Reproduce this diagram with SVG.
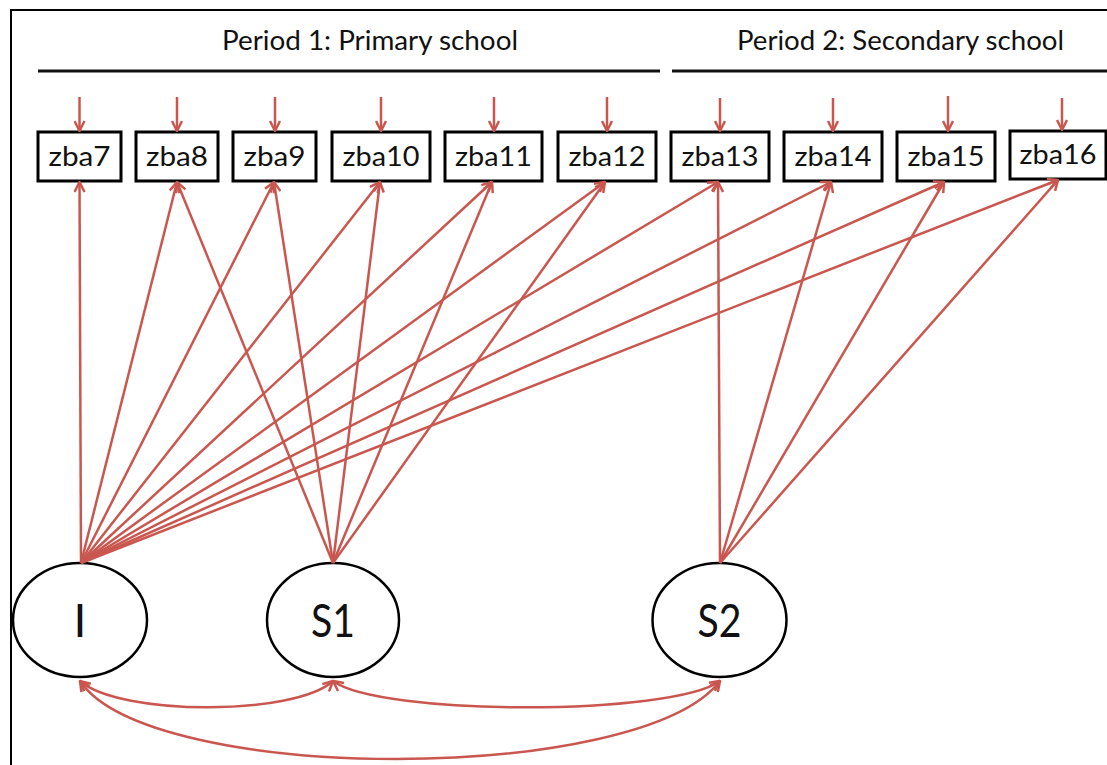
<svg xmlns="http://www.w3.org/2000/svg" width="1107" height="765" viewBox="0 0 1107 765">
<defs>
<style>
.box{fill:#fff;stroke:#000;stroke-width:3}
.lbl{font-family:Lato,"Open Sans","Liberation Sans",sans-serif;font-size:26px;fill:#111;text-anchor:middle}
.hdr{font-family:Lato,"Open Sans","Liberation Sans",sans-serif;font-size:26px;fill:#111}
.lat{fill:#fff;stroke:#000;stroke-width:2.5}
.big{font-family:Lato,"Open Sans","Liberation Sans",sans-serif;font-size:46px;fill:#111;text-anchor:middle}
.c{fill:none;stroke:#C9574F;stroke-width:2.5;marker-end:url(#ah)}
.cc{fill:none;stroke:#C9574F;stroke-width:2.5;marker-end:url(#ah);marker-start:url(#ah)}
</style>
<marker id="ah" viewBox="0 0 12 12" refX="11" refY="6" markerWidth="12" markerHeight="12" markerUnits="userSpaceOnUse" orient="auto-start-reverse">
<path d="M1,1 L11,6 L1,11" fill="none" stroke="#C9574F" stroke-width="2.5"/>
</marker>
</defs>
<rect width="1107" height="765" fill="#fff"/>
<path d="M11,765 V10 H1107" fill="none" stroke="#000" stroke-width="2"/>
<g id="headers">
<text class="hdr" x="222" y="50" textLength="296" lengthAdjust="spacingAndGlyphs">Period 1: Primary school</text>
<text class="hdr" x="737" y="50" textLength="327" lengthAdjust="spacingAndGlyphs">Period 2: Secondary school</text>
<line x1="38" y1="71" x2="660" y2="71" stroke="#111" stroke-width="3"/>
<line x1="672" y1="71" x2="1107" y2="71" stroke="#111" stroke-width="3"/>
</g>
<g id="zba7"><rect class="box" x="38" y="132" width="83" height="49"/><text class="lbl" x="79.5" y="166" textLength="62" lengthAdjust="spacingAndGlyphs">zba7</text></g>
<g id="zba8"><rect class="box" x="136" y="132" width="82" height="49"/><text class="lbl" x="177" y="166" textLength="62" lengthAdjust="spacingAndGlyphs">zba8</text></g>
<g id="zba9"><rect class="box" x="233" y="132" width="83" height="49"/><text class="lbl" x="274.5" y="166" textLength="62" lengthAdjust="spacingAndGlyphs">zba9</text></g>
<g id="zba10"><rect class="box" x="332" y="132" width="98" height="49"/><text class="lbl" x="381" y="166" textLength="77" lengthAdjust="spacingAndGlyphs">zba10</text></g>
<g id="zba11"><rect class="box" x="445" y="132" width="97" height="49"/><text class="lbl" x="493.5" y="166" textLength="77" lengthAdjust="spacingAndGlyphs">zba11</text></g>
<g id="zba12"><rect class="box" x="558" y="132" width="98" height="49"/><text class="lbl" x="607" y="166" textLength="77" lengthAdjust="spacingAndGlyphs">zba12</text></g>
<g id="zba13"><rect class="box" x="671" y="132" width="98" height="49"/><text class="lbl" x="720" y="166" textLength="77" lengthAdjust="spacingAndGlyphs">zba13</text></g>
<g id="zba14"><rect class="box" x="784" y="132" width="98" height="49"/><text class="lbl" x="833" y="166" textLength="77" lengthAdjust="spacingAndGlyphs">zba14</text></g>
<g id="zba15"><rect class="box" x="897" y="132" width="98" height="49"/><text class="lbl" x="946" y="166" textLength="77" lengthAdjust="spacingAndGlyphs">zba15</text></g>
<g id="zba16"><rect class="box" x="1010" y="131" width="96" height="48"/><text class="lbl" x="1058" y="164" textLength="77" lengthAdjust="spacingAndGlyphs">zba16</text></g>
<g id="I"><ellipse class="lat" cx="80" cy="620" rx="67" ry="57"/><text class="big" x="80" y="637">I</text></g>
<g id="S1"><ellipse class="lat" cx="333" cy="620" rx="66" ry="57"/><text class="big" x="333" y="637" textLength="44" lengthAdjust="spacingAndGlyphs">S1</text></g>
<g id="S2"><ellipse class="lat" cx="719.5" cy="620" rx="67" ry="57"/><text class="big" x="719.5" y="637" textLength="44" lengthAdjust="spacingAndGlyphs">S2</text></g>
<g id="connectors">
<line class="c" x1="79.5" y1="97" x2="79.5" y2="131"/>
<line class="c" x1="177" y1="97" x2="177" y2="131"/>
<line class="c" x1="275" y1="97" x2="275" y2="131"/>
<line class="c" x1="381" y1="97" x2="381" y2="131"/>
<line class="c" x1="494" y1="97" x2="494" y2="131"/>
<line class="c" x1="607" y1="97" x2="607" y2="131"/>
<line class="c" x1="720" y1="98" x2="720" y2="131"/>
<line class="c" x1="833" y1="98" x2="833" y2="131"/>
<line class="c" x1="948" y1="96" x2="948" y2="131"/>
<line class="c" x1="1062" y1="98" x2="1062" y2="130"/>
<line class="c" x1="81" y1="563" x2="79.5" y2="182"/>
<line class="c" x1="81" y1="563" x2="177" y2="182"/>
<line class="c" x1="81" y1="563" x2="274" y2="182"/>
<line class="c" x1="81" y1="563" x2="380" y2="182"/>
<line class="c" x1="81" y1="563" x2="492" y2="182"/>
<line class="c" x1="81" y1="563" x2="605" y2="182"/>
<line class="c" x1="81" y1="563" x2="718" y2="182"/>
<line class="c" x1="81" y1="563" x2="831" y2="182"/>
<line class="c" x1="81" y1="563" x2="944" y2="182"/>
<line class="c" x1="81" y1="563" x2="1058" y2="180"/>
<line class="c" x1="333" y1="563" x2="177" y2="182"/>
<line class="c" x1="333" y1="563" x2="274" y2="182"/>
<line class="c" x1="333" y1="563" x2="380" y2="182"/>
<line class="c" x1="333" y1="563" x2="492" y2="182"/>
<line class="c" x1="333" y1="563" x2="605" y2="182"/>
<line class="c" x1="720" y1="563" x2="718" y2="182"/>
<line class="c" x1="720" y1="563" x2="831" y2="182"/>
<line class="c" x1="720" y1="563" x2="944" y2="182"/>
<line class="c" x1="720" y1="563" x2="1058" y2="180"/>
<path class="cc" d="M80,681 C120,716 295,716 333,681"/>
<path class="cc" d="M333,681 C380,716 672,716 720,681"/>
<path class="cc" d="M80,681 C150,785 640,785 720,681"/>
</g>
</svg>
